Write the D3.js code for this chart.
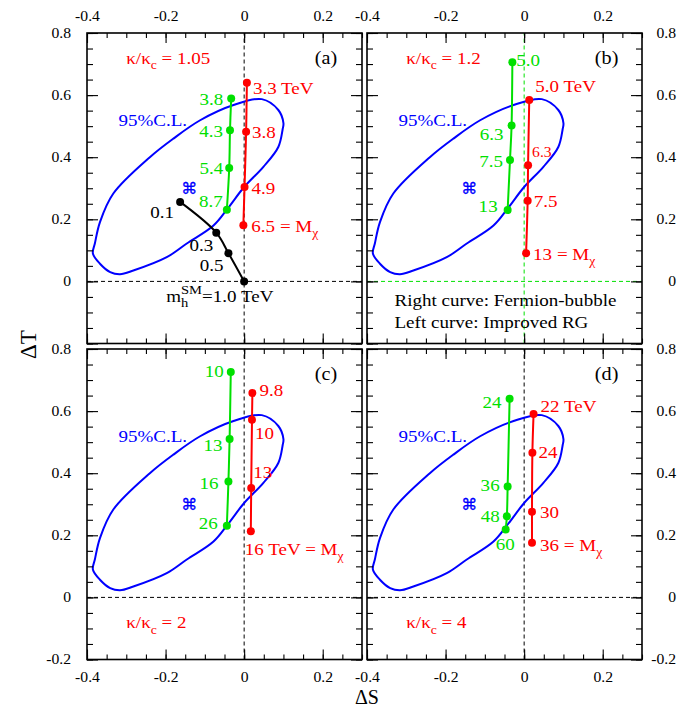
<html><head>
<script src="https://d3js.org/d3.v7.min.js"></script>
<style>
body { margin: 0; background: #fff; }
text { font-family: "Liberation Serif", "Times New Roman", serif; }
</style>
</head>
<body>
<svg id="chart" width="678" height="709"></svg>
<script>
// ---- data ----
const panelTags = ["(a)", "(b)", "(c)", "(d)"];
const kappaRatios = ["1.05", "1.2", "2", "4"];

// right curve: fermion-bubble (red)
const bubbleS = [
    [0.007, 0.005, 0.001, -0.002],
    [0.013, 0.010, 0.009, 0.005],
    [0.021, 0.020, 0.018, 0.017],
    [0.024, 0.021, 0.020, 0.020]
];
const bubbleT = [
    [0.640, 0.482, 0.304, 0.181],
    [0.584, 0.374, 0.260, 0.091],
    [0.658, 0.572, 0.352, 0.213],
    [0.591, 0.466, 0.276, 0.176]
];
const bubbleLabels = [
    ["3.3 TeV", "3.8", "4.9", "6.5 = M_{χ}"],
    ["5.0 TeV", "6.3", "7.5", "13 = M_{χ}"],
    ["9.8", "10", "13", "16 TeV = M_{χ}"],
    ["22 TeV", "24", "30", "36 = M_{χ}"]
];

// left curve: improved RG (green)
const rgS = [
    [-0.033, -0.036, -0.038, -0.044],
    [-0.030, -0.032, -0.036, -0.042],
    [-0.034, -0.037, -0.040, -0.044],
    [-0.037, -0.042, -0.044, -0.047]
];
const rgT = [
    [0.589, 0.487, 0.365, 0.231],
    [0.706, 0.502, 0.391, 0.230],
    [0.726, 0.510, 0.373, 0.231],
    [0.640, 0.357, 0.261, 0.219]
];
const rgLabels = [
    ["3.8", "4.3", "5.4", "8.7"],
    ["5.0", "6.3", "7.5", "13"],
    ["10", "13", "16", "26"],
    ["24", "36", "48", "60"]
];

// SM higgs line, panel (a) only
const smS = [-0.163, -0.071, -0.040, 0.0];
const smT = [0.256, 0.157, 0.091, 0.0];
const smLabels = ["0.1", "0.3", "0.5", "1.0"];

// 95% C.L. contour
const clS = [0.045, 0.087, 0.100, 0.098, 0.087, 0.049, 0.000, -0.040, -0.078, -0.146, -0.197, -0.282, -0.316, -0.341, -0.367, -0.385, -0.380, -0.367, -0.333, -0.240, -0.180, -0.112, -0.027];
const clT = [0.587, 0.552, 0.510, 0.490, 0.433, 0.369, 0.304, 0.238, 0.180, 0.122, 0.078, 0.035, 0.023, 0.030, 0.057, 0.090, 0.122, 0.191, 0.283, 0.400, 0.460, 0.519, 0.568];
const centralS = -0.14, centralT = 0.30;

const sDomain = [-0.4, 0.3];
const tDomain = [-0.2, 0.8];
const majorS = [-0.4, -0.2, 0, 0.2];
const majorT = [-0.2, 0, 0.2, 0.4, 0.6, 0.8];
const minorS = d3.range(-8, 7).map(i => i * 0.05);
const minorT = d3.range(-4, 17).map(i => i * 0.05);

// ---- layout ----
const colX = [87, 367], rowY = [33, 349];
const panelW = 275, panelH = 310.5;
const SX = 1.12; // glyphs in the figure are a bit wider than Times
const RED = "#ff0000", GREEN = "#00e000", BLUE = "#0000ff";
const zeroColor = ["#000", GREEN, "#000", "#000"];

// label placement [dx, dy, anchor, size]
const bubblePlace = [
    [[6, 11, "start"], [6, 6, "start"], [7, 7, "start"], [8, 6.5, "start"]],
    [[6, -8, "start"], [4, -8.5, "start", 14], [6, 6, "start"], [7, 7, "start"]],
    [[7, 3, "start"], [3, 19, "start"], [2, -10, "start"], [-6, 24, "start"]],
    [[7, -2, "start"], [6, 5, "start"], [8, 6, "start"], [8, 8, "start"]]
];
const rgPlace = [
    [[-8, 6.5, "end"], [-7, 6.5, "end"], [-6, 5.5, "end"], [-4, -3, "end"]],
    [[4, 3.5, "start"], [-8, 14, "end"], [-7, 7, "end"], [-10, 2.5, "end"]],
    [[-7, 5.5, "end"], [-7, 12, "end"], [-10, 7, "end"], [-9, 3.5, "end"]],
    [[-8, 9, "end"], [-8, 4.5, "end"], [-7, 6, "end"], [9, 20.5, "end"]]
];
const smPlace = [[-6, 16, "end"], [-3, 18, "end"], [-5, 18, "end"]];

const svg = d3.select("#chart");
svg.append("rect").attr("width", 678).attr("height", 709).attr("fill", "#fff");

// text with simple _{sub} markup
function label(parent, x, y, str, o) {
    o = o || {};
    const size = o.size || 17;
    const t = parent.append("text")
        .attr("transform", "translate(" + x + "," + y + ") scale(" + SX + ",1)")
        .attr("text-anchor", o.anchor || "start")
        .attr("fill", o.color || "#000")
        .style("font-size", size + "px");
    const re = /_\{([^}]*)\}/g;
    let last = 0, shift = 0, m;
    const add = (s, sub) => {
        if (!s) return;
        const target = sub ? 0.3 * size : 0;
        t.append("tspan")
            .attr("dy", target - shift)
            .style("font-size", (sub ? size * 0.72 : size) + "px")
            .text(s);
        shift = target;
    };
    while ((m = re.exec(str))) {
        add(str.slice(last, m.index), false);
        add(m[1], true);
        last = re.lastIndex;
    }
    add(str.slice(last), false);
    return t;
}

function drawSeries(g, x, y, S, T, labels, place, color) {
    const pts = d3.zip(S, T);
    g.append("path").datum(pts)
        .attr("fill", "none").attr("stroke", color).attr("stroke-width", 2)
        .attr("d", d3.line().x(d => x(d[0])).y(d => y(d[1])).curve(d3.curveCatmullRom.alpha(0.5)));
    g.selectAll(null).data(pts).join("circle")
        .attr("cx", d => x(d[0])).attr("cy", d => y(d[1]))
        .attr("r", 4).attr("fill", color);
    labels.forEach((lab, i) => {
        const pl = place[i];
        if (!pl) return;
        label(g, x(S[i]) + pl[0], y(T[i]) + pl[1], lab, {anchor: pl[2], size: pl[3], color: color});
    });
}

const fmt = d => String(+d.toFixed(1));

panelTags.forEach((tag, p) => {
    const col = p % 2, row = Math.floor(p / 2);
    const x0 = colX[col], y0 = rowY[row];
    const x = d3.scaleLinear().domain(sDomain).range([x0, x0 + panelW]);
    const y = d3.scaleLinear().domain(tDomain).range([y0 + panelH, y0]);
    const g = svg.append("g");

    //zero lines
    g.append("line").attr("x1", x(0)).attr("x2", x(0)).attr("y1", y(tDomain[0])).attr("y2", y(tDomain[1]))
        .attr("stroke", zeroColor[p]).attr("stroke-width", 1).attr("stroke-dasharray", "4,3");
    g.append("line").attr("x1", x(sDomain[0])).attr("x2", x(sDomain[1])).attr("y1", y(0)).attr("y2", y(0))
        .attr("stroke", zeroColor[p]).attr("stroke-width", 1).attr("stroke-dasharray", "4,3");

    //95% C.L. contour
    g.append("path").datum(d3.zip(clS, clT))
        .attr("fill", "none").attr("stroke", BLUE).attr("stroke-width", 2)
        .attr("d", d3.line().x(d => x(d[0])).y(d => y(d[1])).curve(d3.curveCatmullRomClosed.alpha(0.5)));
    g.append("text")
        .attr("x", x(centralS)).attr("y", y(centralT)).attr("dy", "0.36em")
        .attr("text-anchor", "middle").attr("fill", BLUE)
        .style("font-family", "'DejaVu Sans'").style("font-size", "16px")
        .style("stroke", BLUE).style("stroke-width", 0.3)
        .text("\u2318");
    label(g, x(-0.32), y(0.5), "95%C.L.", {color: BLUE});

    //curves
    if (p === 0) {
        drawSeries(g, x, y, smS, smT, smLabels, smPlace, "#000");
        // m_h^SM = 1.0 TeV
        const lx = x(smS[3]) - 78, ly = y(smT[3]) + 21;
        const t = g.append("text").attr("transform", "translate(" + lx + "," + ly + ") scale(" + SX + ",1)")
            .style("font-size", "17px");
        const mm = t.append("tspan").attr("x", 0).attr("y", 0).text("m");
        const w = mm.node().getComputedTextLength();
        const sup = t.append("tspan").attr("x", w).attr("y", -8).style("font-size", "13px").text("SM");
        const ws = sup.node().getComputedTextLength();
        t.append("tspan").attr("x", w).attr("y", 5).style("font-size", "13px").text("h");
        t.append("tspan").attr("x", w + ws).attr("y", 0).text("=" + smLabels[3] + " TeV");
    }
    drawSeries(g, x, y, rgS[p], rgT[p], rgLabels[p], rgPlace[p], GREEN);
    drawSeries(g, x, y, bubbleS[p], bubbleT[p], bubbleLabels[p], bubblePlace[p], RED);

    //panel texts
    label(g, x(0.18), y(0.70), tag, {size: 18});
    label(g, x(-0.3), y(row === 0 ? 0.70 : -0.10), "κ/κ_{c} = " + kappaRatios[p], {color: RED});
    if (p === 1) {
        label(g, x(-0.33), y(-0.08), "Right curve: Fermion-bubble");
        label(g, x(-0.33), y(-0.15), "Left curve: Improved RG");
    }

    //ticks, all sides inward
    const sides = [
        {gen: d3.axisBottom(x), tr: "translate(0," + (y0 + panelH) + ")", minor: minorS, major: majorS, len: [5, 10], lab: row === 1, pad: 12.5},
        {gen: d3.axisTop(x), tr: "translate(0," + y0 + ")", minor: minorS, major: majorS, len: [5, 10], lab: row === 0, pad: 12},
        {gen: d3.axisLeft(y), tr: "translate(" + x0 + ",0)", minor: minorT, major: majorT, len: [6, 11], lab: col === 0, pad: 14.3},
        {gen: d3.axisRight(y), tr: "translate(" + (x0 + panelW) + ",0)", minor: minorT, major: majorT, len: [6, 11], lab: col === 1, pad: 10, right: true}
    ];
    sides.forEach(s => {
        g.append("g").attr("transform", s.tr)
            .call(s.gen.tickValues(s.minor).tickSize(-s.len[0]).tickFormat(""))
            .call(a => a.select(".domain").remove())
            .call(a => a.selectAll("line").attr("stroke-width", 1.1));
        const major = g.append("g").attr("transform", s.tr)
            .call(s.gen.tickValues(s.major).tickSize(-s.len[1]).tickPadding(s.pad)
                .tickFormat(d => (s.lab && !(row === 0 && d < -0.1 && s.major === majorT)) ? fmt(d) : ""))
            .attr("font-family", '"Liberation Serif", "Times New Roman", serif')
            .attr("font-size", 14);
        major.select(".domain").remove();
        major.selectAll("line").attr("stroke-width", 1.1);
        major.selectAll("text").attr("fill", "#000").attr("transform", "scale(" + SX + ",1)");
        if (s.right) {
            major.selectAll("text").attr("text-anchor", "end").attr("x", (676 - (x0 + panelW)) / SX);
        }
    });

    //frame
    g.append("rect").attr("x", x0).attr("y", y0).attr("width", panelW).attr("height", panelH)
        .attr("fill", "none").attr("stroke", "#000").attr("stroke-width", 1.6);
});

// axis titles
svg.append("text").attr("transform", "translate(36,344.5) rotate(-90)")
    .attr("text-anchor", "middle").style("font-size", "23px").text("ΔT");
svg.append("text").attr("x", 355).attr("y", 704)
    .style("font-size", "20px").text("ΔS");
</script>
</body>
</html>
